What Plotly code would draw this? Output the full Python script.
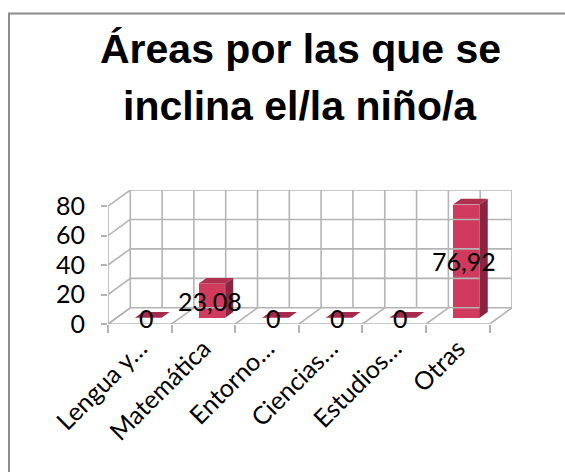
import plotly.graph_objects as go

# ---- data -------------------------------------------------------------
categories = ["Lengua y…", "Matemática", "Entorno…", "Ciencias…", "Estudios…", "Otras"]
values = [0, 23.08, 0, 0, 0, 76.92]
value_labels = ["0", "23,08", "0", "0", "0", "76,92"]
y_ticks = [0, 20, 40, 60, 80]
title_lines = ["Áreas por las que se", "inclina el/la niño/a"]

# ---- geometry ---------------------------------------------------------
W, H = 565, 472
L, R, T, B = 108, 512, 190, 324        # plot area (pixels)
DX, DY = 0.35, 11.0                    # oblique depth offset (x units, y units)
BAR_W = 0.42
D0, D1 = 0.38, 0.74                    # bar depth span (fraction of floor depth)
N = len(categories)
X_MAX = N + DX
Y_TOP = max(y_ticks)
Y_MAX = Y_TOP + DY

GRID = "#b4b4b4"
FRONT = "#cf3a5e"
SIDE = "#8a2541"
TOP = "#b0304f"
FLAT = "#a52a4c"
FONT = "Lato"
FS = 25


def px_x(p):
    return (p - L) / (R - L)


def px_y(p):
    return (B - p) / (B - T)


fig = go.Figure()

# ---- walls and floor grid --------------------------------------------
gx, gy = [], []
for v in y_ticks:  # back wall horizontals + left wall diagonals
    gx += [DX, N + DX, None, 0, DX, None]
    gy += [v + DY, v + DY, None, v, v + DY, None]
for k in range(2 * N + 1):  # back wall verticals
    xv = k / 2 + DX
    gx += [xv, xv, None]
    gy += [DY, Y_TOP + DY, None]
for k in range(N + 1):  # floor depth lines
    gx += [k, k + DX, None]
    gy += [0, DY, None]
gx += [0, N, None, 0, 0, None]  # front floor edge, front left edge
gy += [0, 0, None, 0, Y_TOP, None]
fig.add_trace(go.Scatter(x=gx, y=gy, mode="lines", line=dict(color=GRID, width=1.6),
                         hoverinfo="skip", showlegend=False))

# ---- 3-D columns --------------------------------------------------------
centers = [i + 0.5 for i in range(N)]
for c, v in zip(centers, values):
    xl, xr = c - BAR_W / 2, c + BAR_W / 2
    # top face
    fig.add_trace(go.Scatter(
        x=[xl + D0 * DX, xr + D0 * DX, xr + D1 * DX, xl + D1 * DX, xl + D0 * DX],
        y=[v + D0 * DY, v + D0 * DY, v + D1 * DY, v + D1 * DY, v + D0 * DY],
        fill="toself", mode="lines", line=dict(width=0),
        fillcolor=TOP if v > 0 else FLAT, hoverinfo="skip", showlegend=False))
    if v > 0:
        # right side face
        fig.add_trace(go.Scatter(
            x=[xr + D0 * DX, xr + D1 * DX, xr + D1 * DX, xr + D0 * DX, xr + D0 * DX],
            y=[D0 * DY, D1 * DY, v + D1 * DY, v + D0 * DY, D0 * DY],
            fill="toself", mode="lines", line=dict(width=0),
            fillcolor=SIDE, hoverinfo="skip", showlegend=False))

# front faces
fig.add_trace(go.Bar(
    x=[c + D0 * DX for c in centers], y=values, base=[D0 * DY] * N,
    width=BAR_W, marker=dict(color=FRONT, line=dict(width=0)),
    hoverinfo="skip", showlegend=False))

# ---- value labels -------------------------------------------------------
for c, v, t in zip(centers, values, value_labels):
    fig.add_annotation(x=c + D0 * DX - 0.03, y=D0 * DY + v / 2, text=t,
                       showarrow=False, xanchor="center", yanchor="middle",
                       font=dict(family=FONT, size=FS, color="#000000"))

# ---- title ----------------------------------------------------------------
for line, py in zip(title_lines, [49, 106]):
    fig.add_annotation(x=px_x(300), y=px_y(py), xref="paper", yref="paper",
                       text=f"<b>{line}</b>", showarrow=False,
                       xanchor="center", yanchor="middle",
                       font=dict(family="Liberation Sans", size=41, color="#000000"))

# ---- chart frame -----------------------------------------------------------
fig.add_shape(type="rect", xref="paper", yref="paper",
              x0=px_x(9), x1=px_x(W + 10), y0=px_y(H + 10), y1=px_y(13.5),
              line=dict(color="#8c8c8c", width=2), fillcolor="rgba(0,0,0,0)")

fig.update_layout(
    width=W, height=H,
    margin=dict(l=L, r=W - R, t=T, b=H - B, pad=0),
    paper_bgcolor="#ffffff", plot_bgcolor="#ffffff",
    bargap=0, barmode="overlay",
    xaxis=dict(range=[0, X_MAX], showgrid=False, zeroline=False, showline=False,
               tickmode="array", tickvals=centers, ticktext=categories,
               tickangle=-45, ticks="", ticklabelstandoff=4,
               tickfont=dict(family=FONT, size=FS, color="#000000"),
               minor=dict(tickmode="array", tickvals=list(range(N + 1)),
                          ticks="outside", ticklen=8, tickcolor=GRID, tickwidth=1.6),
               fixedrange=True),
    yaxis=dict(range=[0, Y_MAX], showgrid=False, zeroline=False, showline=False,
               tickmode="array", tickvals=y_ticks, ticktext=[str(v) for v in y_ticks],
               ticks="outside", ticklen=6, tickcolor=GRID, tickwidth=1.6,
               ticklabelstandoff=11,
               tickfont=dict(family=FONT, size=FS, color="#000000"),
               fixedrange=True),
)

fig.write_html("out.html")
